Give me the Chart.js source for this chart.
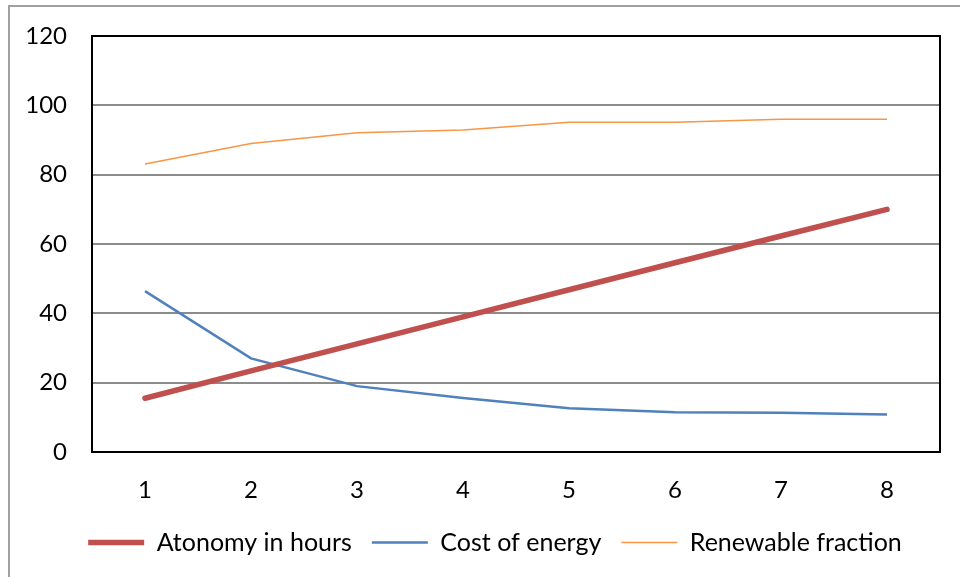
<!DOCTYPE html>
<html>
<head>
<meta charset="utf-8">
<script src="https://cdn.jsdelivr.net/npm/chart.js@4.4.1/dist/chart.umd.min.js"></script>
<style>
  html, body { margin: 0; padding: 0; background: #ffffff; }
  #wrap { position: relative; width: 960px; height: 577px; }
</style>
</head>
<body>
<div id="wrap"><canvas id="chart" width="960" height="577"></canvas></div>
<script>
// Category labels along the x axis
const categories = ['1', '2', '3', '4', '5', '6', '7', '8'];

// Series values
const autonomyHours = [15.5, 23.4, 31.2, 39.0, 46.8, 54.6, 62.3, 70.0];
const costOfEnergy = [46.4, 27.0, 19.0, 15.6, 12.6, 11.5, 11.3, 10.8];
const renewableFraction = [83.1, 89.0, 92.1, 92.9, 95.1, 95.1, 96.0, 96.0];

// Y axis tick range
const yMin = 0;
const yMax = 120;
const yStep = 20;

const FONT = 'Lato, "Open Sans", sans-serif';

// Frame around the whole chart and the black box around the plot area
const framePlugin = {
  id: 'frames',
  afterLayout(chart) {
    // nudge the legend row so it sits centred under the plot
    chart.legend.left += 50;
  },
  beforeDraw(chart) {
    const ctx = chart.ctx;
    ctx.save();
    ctx.strokeStyle = '#a0a0a0';
    ctx.lineWidth = 2;
    ctx.strokeRect(9, 6, 1000, 1000);
    ctx.restore();
  },
  beforeDatasetsDraw(chart) {
    const a = chart.chartArea;
    const ctx = chart.ctx;
    ctx.save();
    ctx.strokeStyle = '#000000';
    ctx.lineWidth = 2;
    ctx.strokeRect(a.left, a.top, a.right - a.left, a.bottom - a.top);
    ctx.restore();
  }
};

new Chart(document.getElementById('chart'), {
  type: 'line',
  data: {
    labels: categories,
    datasets: [
      {
        label: 'Atonomy in hours',
        data: autonomyHours,
        borderColor: '#C0504D',
        backgroundColor: '#C0504D',
        borderWidth: 5.5,
        borderCapStyle: 'round',
        pointRadius: 0,
        tension: 0
      },
      {
        label: 'Cost of energy',
        data: costOfEnergy,
        borderColor: '#4F81BD',
        backgroundColor: '#4F81BD',
        borderWidth: 2.5,
        pointRadius: 0,
        tension: 0
      },
      {
        label: 'Renewable fraction',
        data: renewableFraction,
        borderColor: '#F79646',
        backgroundColor: '#F79646',
        borderWidth: 1.5,
        pointRadius: 0,
        tension: 0
      }
    ]
  },
  options: {
    responsive: false,
    animation: false,
    devicePixelRatio: 1,
    layout: { padding: { top: 36, right: 20, left: 0, bottom: 12 } },
    plugins: {
      tooltip: { enabled: false },
      legend: {
        position: 'bottom',
        labels: {
          usePointStyle: true,
          pointStyle: 'line',
          pointStyleWidth: 56,
          padding: 20,
          color: '#000000',
          font: { family: FONT, size: 25 }
        }
      }
    },
    scales: {
      x: {
        offset: true,
        grid: { display: false, drawTicks: false },
        border: { display: false },
        ticks: { color: '#000000', padding: 24, font: { family: FONT, size: 24 } },
        afterFit(scale) { scale.height = 58; }
      },
      y: {
        min: yMin,
        max: yMax,
        grid: {
          color: (c) => (c.tick.value === yMin || c.tick.value === yMax) ? 'rgba(0,0,0,0)' : '#8c8c8c',
          lineWidth: 2,
          drawTicks: false
        },
        border: { display: false },
        ticks: { stepSize: yStep, color: '#000000', padding: 25, font: { family: FONT, size: 24 } },
        afterFit(scale) {
          scale.width = 92;
          scale.paddingTop = 0;
          scale.paddingBottom = 0;
        }
      }
    }
  },
  plugins: [framePlugin]
});
</script>
</body>
</html>
